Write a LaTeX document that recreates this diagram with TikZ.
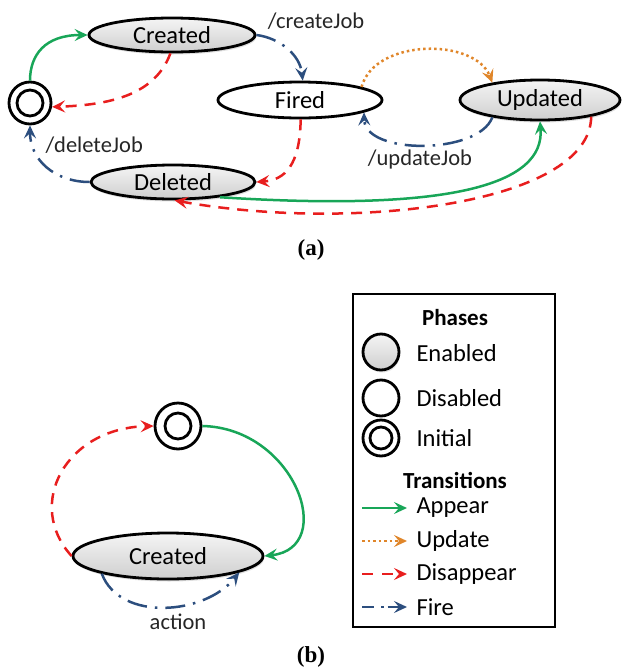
\documentclass[tikz,border=0pt]{standalone}
\usepackage{fontspec}
\setmainfont{Carlito}
\newfontfamily\capfont{Liberation Serif}
\usetikzlibrary{shapes.geometric,arrows.meta,shadows}
\definecolor{cgreen}{RGB}{24,166,88}
\definecolor{cred}{RGB}{232,30,30}
\definecolor{corange}{RGB}{224,134,42}
\definecolor{cblue}{RGB}{44,78,126}
\begin{document}
\begin{tikzpicture}[x=1pt,y=-1pt,
  every node/.style={font=\fontsize{24.5}{28}\selectfont},
  enst/.style={ellipse,draw=black,line width=2.8pt,top color=gray!8,bottom color=gray!38,inner sep=0pt,
    drop shadow={opacity=0.25,shadow xshift=1pt,shadow yshift=-2.5pt}},
  dist/.style={ellipse,draw=black,line width=2.8pt,fill=white,inner sep=0pt},
  ring/.style={circle,draw=black,line width=2.8pt,fill=white,inner sep=0pt},
  tipst/.style={-{Stealth[length=13pt,width=12pt,inset=5pt]}},
  appear/.style={tipst,draw=cgreen,line width=2.5pt},
  disap/.style={tipst,draw=cred,line width=2.5pt,dash pattern=on 11pt off 8pt},
  upd/.style={tipst,draw=corange,line width=2.5pt,dash pattern=on 2.5pt off 3pt},
  fire/.style={tipst,draw=cblue,line width=2.5pt,dash pattern=on 20pt off 8pt on 2.5pt off 8pt},
  lbl/.style={font=\fontsize{22.5}{26}\selectfont,text=black!85},
  captxt/.style={font=\capfont\bfseries\fontsize{23}{26}\selectfont},
  head/.style={font=\bfseries\fontsize{23}{26}\selectfont}]
\useasboundingbox (0,0) rectangle (622,670);

% ---------- (a) ----------
\node[enst,minimum width=166,minimum height=34] (cr) at (172,35) {Created};
\node[ring,minimum size=42] (i1) at (30,103) {};
\node[ring,minimum size=26] (i1in) at (30,103) {};
\node[dist,minimum width=164,minimum height=36] (fi) at (300,100) {Fired};
\node[enst,minimum width=160,minimum height=40] (up) at (540,100) {Updated};
\node[enst,minimum width=164,minimum height=34] (de) at (173,182) {Deleted};

\draw[appear] (i1.north) .. controls (30,55) and (45,35) .. (cr.west);
\draw[disap] (cr.-95) .. controls (155,95) and (110,105) .. (i1.-10);
\draw[fire] (cr.east) .. controls (280,38) and (300,55) .. (fi.82);
\draw[upd] (fi.12) .. controls (375,38) and (475,38) .. (up.160);
\draw[fire] (up.-160) .. controls (478,155) and (365,155) .. (fi.-11);
\draw[disap] (fi.-88) .. controls (300,165) and (285,180) .. (de.east);
\draw[appear] (de.-18) .. controls (450,212) and (545,185) .. (up.-90);
\draw[disap] (up.-18) .. controls (590,205) and (350,232) .. (de.-85);
\draw[fire] (de.west) .. controls (55,182) and (30,160) .. (i1.south);

\node[lbl] (l1) at (316,21) {/createJob};
\node[lbl,anchor=west] (l2) at (42,145) {/deleteJob};
\node[lbl] (l3) at (420,159) {/updateJob};
\node[captxt] (ca) at (311,250) {(a)};

% ---------- (b) ----------
\node[ring,minimum size=46] (i2) at (178,426) {};
\node[ring,minimum size=26] (i2in) at (178,426) {};
\node[enst,minimum width=190,minimum height=46] (cb) at (168,556) {Created};
\draw[appear] (i2.east) .. controls (295,428) and (338,548) .. (cb.east);
\draw[disap] (cb.west) .. controls (25,505) and (65,428) .. (i2.west);
\draw[fire] (cb.-165) .. controls (120,622) and (205,615) .. (cb.-13);
\node[lbl] (l4) at (178,622) {action};
\node[captxt] (cbcap) at (311,657) {(b)};

% ---------- legend ----------
\node[draw=black,line width=1.8pt,minimum width=202,minimum height=333,inner sep=0pt] (box) at (454,460.5) {};
\node[head] (ph) at (455,318) {Phases};
\node[enst,circle,minimum size=36] (le) at (381,352) {};
\node[anchor=west] (lte) at (413,353) {Enabled};
\node[ring,minimum size=36] (ld) at (381,398) {};
\node[anchor=west] (ltd) at (413,398) {Disabled};
\node[ring,minimum size=36] (li) at (381,438) {};
\node[ring,minimum size=22] (liin) at (381,438) {};
\node[anchor=west] (lti) at (413,438) {Initial};
\node[head] (tr) at (455,480) {Transitions};
\coordinate (a1) at (362,508); \coordinate (a2) at (407,508);
\coordinate (b1) at (362,541); \coordinate (b2) at (407,541);
\coordinate (c1) at (362,574); \coordinate (c2) at (407,574);
\coordinate (d1) at (362,607); \coordinate (d2) at (407,607);
\draw[appear] (a1) -- (a2);
\draw[upd] (b1) -- (b2);
\draw[disap,dash pattern=on 11pt off 9pt] (c1) -- (c2);
\draw[fire,dash pattern=on 12pt off 7pt on 2.5pt off 4pt] (d1) -- (d2);
\node[anchor=west] (ta) at (413,508) {Appear};
\node[anchor=west] (tu) at (413,541) {Update};
\node[anchor=west] (td) at (413,574) {Disappear};
\node[anchor=west] (tf) at (413,607) {Fire};
\end{tikzpicture}
\end{document}
